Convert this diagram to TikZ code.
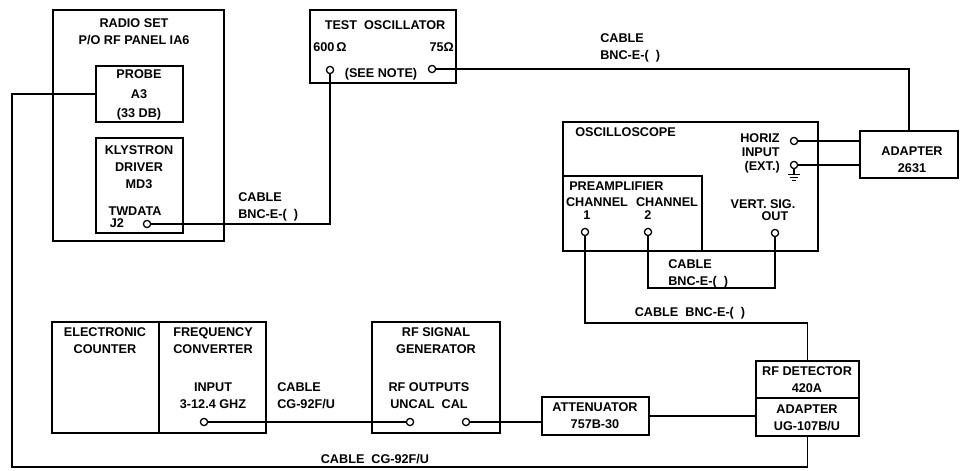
\documentclass[tikz,border=0pt]{standalone}
\usepackage{fontspec}
\setmainfont{Liberation Sans}
\usetikzlibrary{fit}
\tikzset{
  box/.style={draw, line width=1.1pt, inner sep=0pt, outer sep=0pt},
  lbl/.style={inner sep=0pt, align=center, font=\fontsize{9}{12}\selectfont\bfseries},
  port/.style={draw, circle, line width=0.9pt, minimum size=0.18cm, inner sep=0pt},
  wire/.style={line width=0.9pt}
}
\begin{document}
\begin{tikzpicture}[x=0.025cm, y=-0.025cm]
    \useasboundingbox (0,0) rectangle (960,471);
    % radio set
    \node[box, fit={(53,10) (224,241)}] (radio) {};
    \node[lbl] (radiot) at (134,32) {RADIO SET\\P/O RF PANEL IA6};
    \node[box, fit={(96,66) (183,122)}] (probe) {};
    \node[lbl, font=\fontsize{9}{14}\selectfont\bfseries] (probet) at (139,95) {PROBE\\A3\\(33 DB)};
    \node[box, fit={(96,138) (183,233)}] (klys) {};
    \node[lbl] (klyst) at (139,167) {KLYSTRON\\DRIVER\\MD3};
    \node[lbl] (twdata) at (135,211) {TWDATA};
    \node[lbl] (j2t) at (117,223) {J2};
    \node[port] (pj2) at (147,224) {};
    % test oscillator
    \node[box, fit={(310,10) (456,83)}] (testosc) {};
    \node[lbl] (testosct) at (385,25) {TEST\ \ OSCILLATOR};
    \node[lbl, anchor=west] (t600) at (313,47) {600\,Ω};
    \node[lbl, anchor=east] (t75) at (454,47) {75Ω};
    \node[lbl] (seenote) at (381,74) {(SEE NOTE)};
    \node[port] (p600) at (330,70) {};
    \node[port] (p75) at (432,69) {};
    % oscilloscope
    \node[box, fit={(563,122) (818,251)}] (scope) {};
    \node[lbl, anchor=west] (scopet) at (575,132) {OSCILLOSCOPE};
    \node[lbl, anchor=east, align=right, font=\fontsize{9}{10}\selectfont\bfseries] (horizt) at (780,153) {HORIZ\\INPUT\\(EXT.)};
    \node[port] (phoriz) at (794,141) {};
    \node[port] (pgnd) at (794,165) {};
    \draw[wire] (pgnd.south) -- ++(0,5) ++(-6,0) -- ++(12,0) ++(-10,3) -- ++(8,0) ++(-6,3) -- ++(4,0);
    \node[box, fit={(563,176) (702,251)}] (preamp) {};
    \node[lbl, anchor=west] (preampt) at (569,186) {PREAMPLIFIER};
    \node[lbl] (ch1t) at (597,202) {CHANNEL};
    \node[lbl] (ch2t) at (667,202) {CHANNEL};
    \node[lbl] (n1) at (587,215) {1};
    \node[lbl] (n2) at (648,215) {2};
    \node[lbl] (vertt) at (763,204) {VERT. SIG.};
    \node[lbl] (outt) at (775,216) {OUT};
    \node[port] (pch1) at (585,232) {};
    \node[port] (pch2) at (648,232) {};
    \node[port] (pvert) at (775,233) {};
    \node[box, fit={(860,131) (958,178)}] (adapt) {};
    \node[lbl] (adaptt) at (912,160) {ADAPTER\\2631};
    % bottom row
    \node[box, fit={(52,322) (159,433)}] (counter) {};
    \node[lbl] (countert) at (105,341) {ELECTRONIC\\COUNTER};
    \node[box, fit={(159,322) (266,433)}] (conv) {};
    \node[lbl] (convt) at (213,341) {FREQUENCY\\CONVERTER};
    \node[lbl] (inputt) at (213,396) {INPUT\\3-12.4 GHZ};
    \node[port] (pinput) at (204,422) {};
    \node[box, fit={(372,322) (500,433)}] (siggen) {};
    \node[lbl] (siggent) at (436,341) {RF SIGNAL\\GENERATOR};
    \node[lbl] (rfoutt) at (429,396) {RF OUTPUTS\\UNCAL\ \ CAL};
    \node[port] (puncal) at (410,422) {};
    \node[port] (pcal) at (466,422) {};
    \node[box, fit={(542,397) (649,435)}] (atten) {};
    \node[lbl] (attent) at (595,416) {ATTENUATOR\\757B-30};
    \node[box, fit={(756,361) (859,398)}] (rfdet) {};
    \node[lbl] (rfdett) at (807,380) {RF DETECTOR\\420A};
    \node[box, fit={(756,398) (859,436)}] (rfadapt) {};
    \node[lbl] (rfadaptt) at (807,418) {ADAPTER\\UG-107B/U};
    % cables
    \coordinate (lowleft) at (12,467);
    \coordinate (c1low) at (585,323);
    \coordinate (c2low) at (648,288);
    \draw[wire] (probe.west) -| (lowleft) -| (rfadapt.south);
    \draw[wire] (pj2) -| (p600);
    \draw[wire] (p75) -| (adapt.north);
    \draw[wire] (phoriz) -- (phoriz -| adapt.west);
    \draw[wire] (pgnd) -- (pgnd -| adapt.west);
    \draw[wire] (pch2) -- (c2low) -| (pvert);
    \draw[wire] (pch1) -- (c1low) -| (rfdet.north);
    \draw[wire] (pinput) -- (puncal);
    \draw[wire] (pcal) -- (pcal -| atten.west);
    \draw[wire] (atten.east) -- (atten.east -| rfadapt.west);
    \node[lbl, anchor=west, align=left] (cab1) at (238,207) {CABLE\\BNC-E-(\ \ )};
    \node[lbl, anchor=west, align=left] (cab2) at (600,48) {CABLE\\BNC-E-(\ \ )};
    \node[lbl, anchor=west, align=left] (cab3) at (668,274) {CABLE\\BNC-E-(\ \ )};
    \node[lbl] (cab4) at (690,313) {CABLE\ \ BNC-E-(\ \ )};
    \node[lbl, anchor=west, align=left] (cab5) at (277,396) {CABLE\\CG-92F/U};
    \node[lbl] (cab6) at (375,459) {CABLE\ \ CG-92F/U};
\end{tikzpicture}
\end{document}
